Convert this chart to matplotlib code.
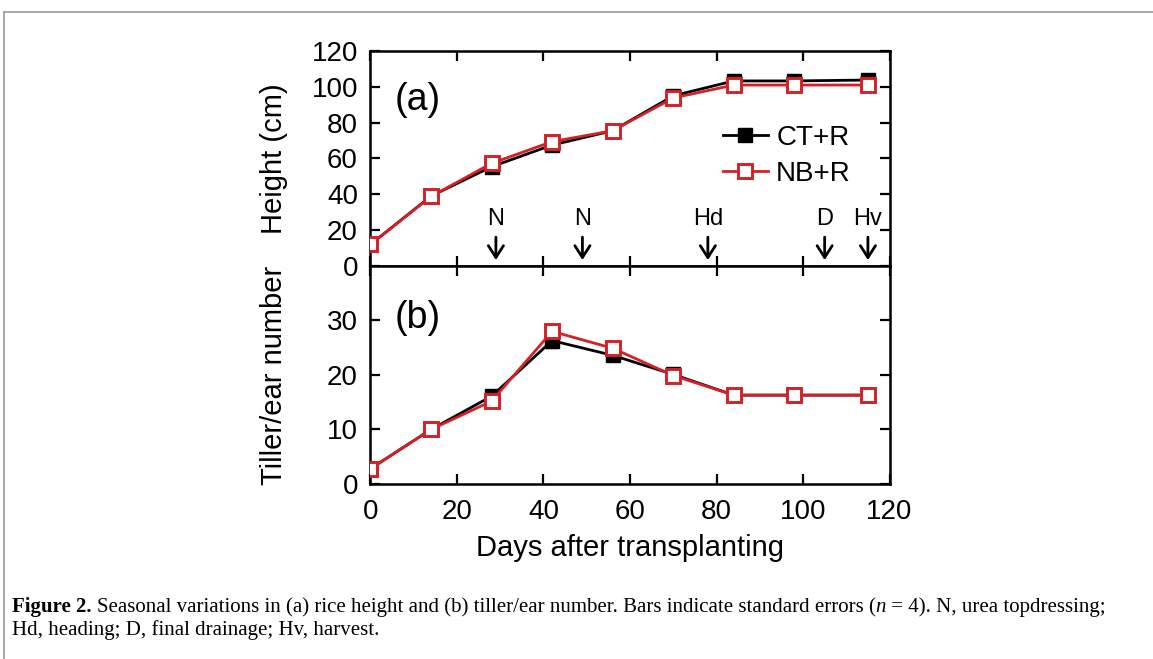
import matplotlib
matplotlib.use('Agg')
import matplotlib.pyplot as plt
from matplotlib.lines import Line2D

plt.rcParams['font.family'] = ['Liberation Sans', 'DejaVu Sans']

days = [0, 14, 28, 42, 56, 70, 84, 98, 115]

height_ct = [12, 39, 55.4, 67.5, 75.5, 95, 103.3, 103.3, 103.8]
height_ct_se = [1.0, 1.0, 1.5, 1.2, 1.0, 1.2, 1.0, 1.0, 1.0]
height_nb = [12, 38.8, 57.3, 69.4, 75.5, 93.8, 101, 101, 101]
height_nb_se = [1.0, 1.0, 1.2, 1.0, 1.0, 1.2, 1.0, 1.0, 1.0]

tiller_ct = [2.8, 10, 16.1, 26.3, 23.6, 20.1, 16.3, 16.3, 16.3]
tiller_ct_se = [0.3, 0.4, 0.6, 1.3, 0.5, 0.4, 0.5, 0.5, 0.5]
tiller_nb = [2.8, 10, 15.2, 28, 24.9, 19.9, 16.3, 16.3, 16.3]
tiller_nb_se = [0.3, 0.4, 0.6, 0.8, 0.6, 0.4, 0.5, 0.5, 0.5]

events = ['N', 'N', 'Hd', 'D', 'Hv']
event_days = [29, 49, 78, 105, 115]

red = '#d42027'
ms = 9.8
lw = 2.0

fig = plt.figure(figsize=(11.53, 6.59), dpi=100)
ax1 = fig.add_axes([0.3213, 0.5964, 0.4502, 0.3262])
ax2 = fig.add_axes([0.3213, 0.2656, 0.4502, 0.3308])


def draw_series(ax, y_ct, e_ct, y_nb, e_nb):
    ax.errorbar(days, y_ct, yerr=e_ct, color='black', marker='s', markersize=ms,
                markerfacecolor='black', markeredgecolor='black', lw=lw,
                capsize=4, elinewidth=1.6, capthick=1.6, zorder=3)
    ax.errorbar(days, y_nb, yerr=e_nb, color=red, marker='s', markersize=ms,
                markerfacecolor='white', markeredgecolor=red, markeredgewidth=2.1,
                lw=lw, capsize=4, elinewidth=1.6, capthick=1.6, zorder=4)


draw_series(ax1, height_ct, height_ct_se, height_nb, height_nb_se)
draw_series(ax2, tiller_ct, tiller_ct_se, tiller_nb, tiller_nb_se)

for ax in (ax1, ax2):
    ax.set_xlim(0, 120)
    ax.set_xticks(range(0, 121, 20))
    ax.tick_params(direction='in', top=True, right=True, length=7, width=1.6,
                   labelsize=20)
    ax.tick_params(axis='x', pad=11)
    ax.tick_params(axis='y', pad=9)
    for sp in ax.spines.values():
        sp.set_linewidth(1.8)

ax1.set_ylim(0, 120)
ax1.set_yticks(range(0, 121, 20))
ax1.tick_params(axis='x', labelbottom=False)
ax2.set_ylim(0, 40)
ax2.set_yticks([0, 10, 20, 30])

ax1.set_ylabel('Height (cm)', fontsize=21)
ax2.set_ylabel('Tiller/ear number', fontsize=21)
ax2.set_xlabel('Days after transplanting', fontsize=21, labelpad=6)
ax1.yaxis.set_label_coords(-0.159, 0.5)
ax2.yaxis.set_label_coords(-0.159, 0.5)

ax1.text(5.5, 92.5, '(a)', fontsize=27, va='center', ha='left')
ax2.text(5.5, 30.5, '(b)', fontsize=27, va='center', ha='left')

for lab, d in zip(events, event_days):
    ax1.annotate(lab, xy=(d, 3.3), xytext=(d, 26.5), ha='center', va='center',
                 fontsize=17,
                 arrowprops=dict(arrowstyle='->, head_length=0.5, head_width=0.32',
                                 lw=2, color='black', shrinkA=3.5, shrinkB=0))

handles = [
    Line2D([], [], color='black', marker='s', markersize=ms, lw=lw,
           markerfacecolor='black', markeredgecolor='black'),
    Line2D([], [], color=red, marker='s', markersize=ms, lw=lw,
           markerfacecolor='white', markeredgecolor=red, markeredgewidth=2.1),
]
ax1.legend(handles, ['CT+R', 'NB+R'], loc='upper left',
           bbox_to_anchor=(0.679, 0.657), frameon=False,
           fontsize=20, handlelength=1.62, handletextpad=0.3,
           labelspacing=0.37, borderpad=0, borderaxespad=0)

# gray frame
fig.add_artist(Line2D([4 / 1153, 1], [1 - 12 / 659, 1 - 12 / 659],
                      transform=fig.transFigure, color='#999999', lw=1.2))
fig.add_artist(Line2D([4 / 1153, 4 / 1153], [0, 1 - 12 / 659],
                      transform=fig.transFigure, color='#999999', lw=1.2))

# caption
serif = ['Liberation Serif', 'DejaVu Serif']
renderer = fig.canvas.get_renderer()


def put_pieces(x_px, y_frac, pieces):
    x = x_px
    for s, kw in pieces:
        t = fig.text(x / 1153, y_frac, s, family=serif, fontsize=15,
                     va='baseline', ha='left', **kw)
        bb = t.get_window_extent(renderer)
        x = bb.x1


put_pieces(12, 1 - 612 / 659, [
    ('Figure 2. ', dict(weight='bold')),
    ('Seasonal variations in (a) rice height and (b) tiller/ear number. '
     'Bars indicate standard errors (', {}),
    ('n', dict(style='italic')),
    (' = 4). N, urea topdressing;', {}),
])
put_pieces(12, 1 - 635 / 659, [
    ('Hd, heading; D, final drainage; Hv, harvest.', {}),
])

fig.savefig('out.png', dpi=100)
plt.close(fig)
